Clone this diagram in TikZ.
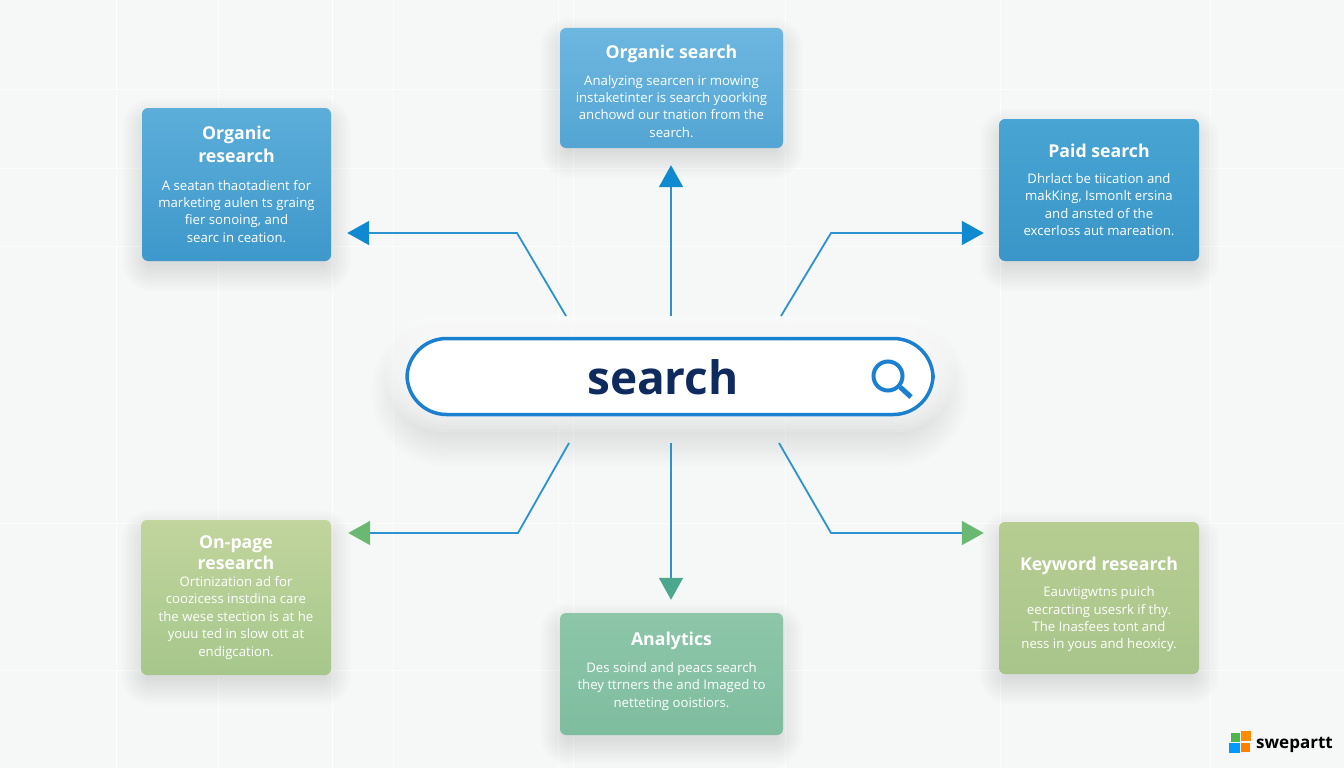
\documentclass[tikz,border=0pt]{standalone}
\usepackage{fontspec}
\setmainfont{Open Sans}
\usetikzlibrary{arrows.meta}
\usetikzlibrary{backgrounds}
\usetikzlibrary{calc}

\definecolor{bgpage}{HTML}{F6F7F7}
\definecolor{barblue}{HTML}{1B80D0}
\definecolor{navy}{HTML}{0F2A5C}
\definecolor{wireblue}{HTML}{2A93D0}
\definecolor{headblue}{HTML}{0F8AD0}
\definecolor{headgreen}{HTML}{6BB873}
\definecolor{headteal}{HTML}{4BA88E}

\tikzset{
    card/.style={rounded corners=6pt,align=center,text=white,inner sep=0pt,
        font=\fontsize{13.2}{17.4}\selectfont},
    wire/.style={draw=wireblue,line width=1.8pt},
    bluetip/.style={-{Triangle[length=22pt,width=24pt,color=headblue]}},
    greentip/.style={-{Triangle[length=22pt,width=24pt,color=headgreen]}},
    tealtip/.style={-{Triangle[length=22pt,width=24pt,color=headteal]}},
}

\newcommand{\cardtitle}[1]{{\fontsize{17.7}{21.5}\selectfont\bfseries #1}}
% layers of a soft halo: node, colour, opacity, drop, corner radius, spreads
\newcommand{\softhalo}[6]{
    \foreach \d in {#6} {
        \fill [#2,opacity=#3,rounded corners=#5pt+\d pt]
            ($(#1.north west)+(-\d,-\d+#4)$) rectangle ($(#1.south east)+(\d,\d+#4)$);
    }
}

\begin{document}
\begin{tikzpicture}[x=1pt,y=-1pt]
    \useasboundingbox (0,0) rectangle (1344,768);

    % cards
    \node [card,top color={rgb,255:red,109;green,183;blue,224},bottom color={rgb,255:red,84;green,165;blue,212},
        minimum width=223pt,minimum height=120pt] (orgsearch) at (671.5,88)
        {\rule{0pt}{20pt}\cardtitle{Organic search}\\[9pt] Analyzing searcen ir mowing\\ instaketinter is search yoorking\\ anchowd our tnation from the\\ search.};
    \node [card,top color={rgb,255:red,92;green,174;blue,217},bottom color={rgb,255:red,62;green,152;blue,203},
        minimum width=189pt,minimum height=153pt] (orgresearch) at (236.5,184.5)
        {\cardtitle{Organic}\\[4pt] \cardtitle{research}\\[10pt] A seatan thaotadient for\\ marketing aulen ts graing\\ fier sonoing, and\\ searc in ceation.};
    \node [card,top color={rgb,255:red,72;green,164;blue,210},bottom color={rgb,255:red,58;green,150;blue,200},
        minimum width=200pt,minimum height=142pt] (paidsearch) at (1099,190)
        {\cardtitle{Paid search}\\[8pt] Dhrlact be tiication and\\ makKing, Ismonlt ersina\\ and ansted of the\\ excerloss aut mareation.};
    \node [card,top color={rgb,255:red,193;green,213;blue,157},bottom color={rgb,255:red,166;green,199;blue,140},
        minimum width=190pt,minimum height=155pt] (onpage) at (236,597.5)
        {\cardtitle{On-page}\\[2pt] \cardtitle{research}\\ Ortinization ad for\\ coozicess instdina care\\ the wese stection is at he\\ youu ted in slow ott at\\ endigcation.};
    \node [card,top color={rgb,255:red,141;green,198;blue,169},bottom color={rgb,255:red,127;green,189;blue,159},
        minimum width=223pt,minimum height=122pt] (analytics) at (671.5,674)
        {\cardtitle{Analytics}\\[9pt] Des soind and peacs search\\ they ttrners the and Imaged to\\ netteting ooistiors.\rule[-8.5pt]{0pt}{8.5pt}};
    \node [card,top color={rgb,255:red,182;green,205;blue,145},bottom color={rgb,255:red,169;green,197;blue,139},
        minimum width=200pt,minimum height=152pt] (keyword) at (1099,598)
        {\rule{0pt}{26.5pt}\cardtitle{Keyword research}\\[9pt] Eauvtigwtns puich\\ eecracting usesrk if thy.\\ The Inasfees tont and\\ ness in yous and heoxicy.};

    % search bar in the middle
    \node [rounded corners=39.5pt,draw=barblue,fill=white,line width=3.5pt,inner sep=0pt,
        minimum width=526pt,minimum height=76pt] (searchbar) at (670,376.5) {};
    \node [text=navy,inner sep=0pt,font=\fontsize{46}{50}\selectfont\bfseries] (searchlabel) at (663,377) {search};
    \node [circle,draw=barblue,line width=4pt,minimum size=29pt,inner sep=0pt] (glass) at (888,376) {};
    \coordinate (glassend) at (911,397);
    \draw [barblue,line width=5pt] (glass) -- (glassend);

    \begin{scope}[on background layer]
        \fill [bgpage] (0,0) rectangle (1344,768);
        % faint grid behind everything
        \foreach \gx in {116,218,332,393,558,573,785,1000,1210}
            \draw [white,opacity=.7,line width=1pt] (\gx,0) -- (\gx,768);
        \foreach \gy in {89,168,246,523,670}
            \draw [white,opacity=.7,line width=1pt] (0,\gy) -- (1344,\gy);
        \foreach \cardname in {orgsearch,orgresearch,paidsearch,onpage,analytics,keyword} {
            \softhalo{\cardname}{black}{.009}{10}{10}{-6,-4,...,20}
        }
        \softhalo{searchbar}{black}{.008}{16}{39.5}{-14,-11,...,34}
        \softhalo{searchbar}{white}{.16}{-4}{39.5}{2,5,...,20}
    \end{scope}

    % free ends and bends of the connectors
    \coordinate (startA) at (566,316);
    \coordinate (bendA) at (517,233);
    \coordinate (startB) at (671,316);
    \coordinate (startC) at (781,316);
    \coordinate (bendC) at (831,233);
    \coordinate (startD) at (569,443);
    \coordinate (bendD) at (518,533);
    \coordinate (startE) at (671,443);
    \coordinate (startF) at (779,443);
    \coordinate (bendF) at (831,533);

    \draw [wire,bluetip,shorten >=16pt] (startA) -- (bendA) -- (orgresearch.east |- bendA);
    \draw [wire,bluetip,shorten >=17pt] (startB) -- (startB |- orgsearch.south);
    \draw [wire,bluetip,shorten >=15pt] (startC) -- (bendC) -- (paidsearch.west |- bendC);
    \draw [wire,greentip,shorten >=17pt] (startD) -- (bendD) -- (onpage.east |- bendD);
    \draw [wire,tealtip,shorten >=13pt] (startE) -- (startE |- analytics.north);
    \draw [wire,greentip,shorten >=15pt] (startF) -- (bendF) -- (keyword.west |- bendF);

    % logo
    \fill [green!60!black!70!white] (1231,733) rectangle (1240,742);
    \fill [orange!90!yellow] (1241,731) rectangle (1251,741);
    \fill [blue!40!cyan] (1229,743) rectangle (1240,753);
    \fill [orange] (1241,743) rectangle (1250,752);
    \node [inner sep=0pt,anchor=west,font=\fontsize{17}{20}\selectfont\bfseries] (logotext) at (1256,745) {swepartt};
\end{tikzpicture}
\end{document}
